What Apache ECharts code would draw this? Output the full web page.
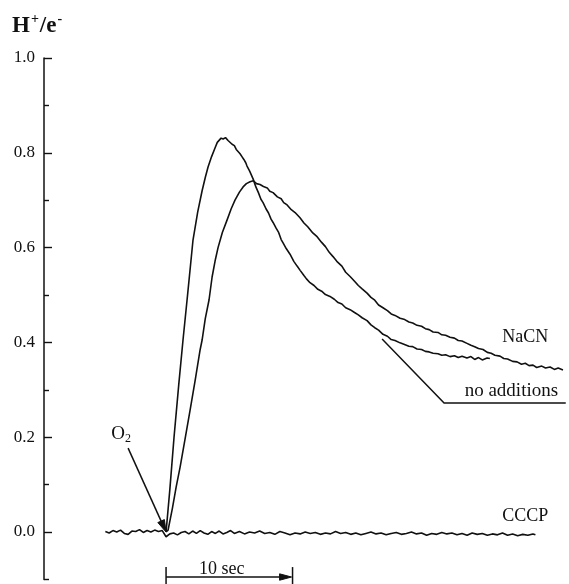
<!DOCTYPE html>
<html>
<head>
<meta charset="utf-8">
<script src="https://cdn.jsdelivr.net/npm/echarts@6/dist/echarts.min.js"></script>
<style>
html,body{margin:0;padding:0;background:#fff;}
#main{width:569px;height:584px;}
</style>
</head>
<body>
<div id="main"></div>
<script>
// ---- data: time (s, 0 = O2 addition) and H+/e- ratio ----
const noAdditions = [
[0,0],[0.3,0.09],[0.63,0.2],[1.0,0.31],[1.34,0.405],[1.7,0.5],[2.13,0.616],[2.5,0.675],[2.85,0.72],[3.1,0.748],[3.32,0.77],[3.6,0.792],[3.87,0.81],[4.05,0.822],[4.2,0.826],[4.35,0.831],[4.51,0.829],[4.7,0.832],[4.9,0.826],[5.05,0.824],[5.22,0.818],[5.4,0.815],[5.55,0.807],[5.7,0.805],[5.85,0.798],[6.0,0.792],[6.15,0.786],[6.3,0.779],[6.4,0.772],[6.6,0.762],[6.88,0.745],[7.1,0.728],[7.3,0.716],[7.5,0.702],[7.67,0.695],[7.9,0.682],[8.1,0.673],[8.3,0.66],[8.46,0.653],[8.7,0.641],[8.9,0.632],[9.1,0.617],[9.25,0.61],[9.5,0.598],[9.8,0.586],[10.1,0.571],[10.36,0.561],[10.6,0.552],[10.9,0.541],[11.1,0.534],[11.38,0.526],[11.7,0.52],[12.0,0.512],[12.3,0.508],[12.6,0.501],[12.96,0.497],[13.3,0.491],[13.6,0.484],[13.9,0.481],[14.2,0.473],[14.55,0.469],[14.9,0.463],[15.2,0.458],[15.5,0.452],[15.89,0.446],[16.2,0.437],[16.5,0.431],[16.8,0.426],[17.15,0.417],[17.5,0.413],[17.8,0.406],[18.1,0.404],[18.5,0.399],[18.8,0.396],[19.2,0.392],[19.5,0.391],[19.84,0.386],[20.2,0.385],[20.5,0.381],[20.8,0.38],[21.11,0.377],[21.5,0.376],[21.8,0.373],[22.1,0.374],[22.45,0.37],[22.8,0.372],[23.1,0.368],[23.4,0.371],[23.79,0.367],[24.1,0.37],[24.4,0.364],[24.7,0.368],[25.0,0.363],[25.38,0.367],[25.6,0.366]
];
const naCN = [
[0,0],[0.16,0.004],[0.5,0.05],[0.8,0.095],[1.11,0.137],[1.5,0.196],[1.9,0.257],[2.3,0.32],[2.69,0.384],[2.85,0.405],[3.1,0.45],[3.4,0.49],[3.64,0.538],[3.9,0.575],[4.11,0.6],[4.45,0.632],[4.82,0.658],[5.15,0.682],[5.45,0.7],[5.8,0.717],[6.09,0.728],[6.35,0.735],[6.64,0.739],[6.9,0.741],[7.15,0.735],[7.43,0.733],[7.7,0.729],[8.0,0.726],[8.2,0.719],[8.46,0.716],[8.8,0.707],[9.1,0.703],[9.3,0.695],[9.57,0.69],[9.9,0.68],[10.2,0.674],[10.59,0.663],[10.9,0.652],[11.2,0.644],[11.6,0.631],[11.94,0.623],[12.3,0.611],[12.6,0.602],[12.9,0.59],[13.2,0.581],[13.5,0.571],[13.9,0.561],[14.2,0.548],[14.55,0.539],[14.9,0.529],[15.2,0.52],[15.5,0.513],[15.89,0.504],[16.2,0.495],[16.5,0.489],[16.8,0.479],[17.15,0.473],[17.5,0.467],[17.8,0.46],[18.1,0.457],[18.5,0.451],[18.8,0.449],[19.2,0.443],[19.5,0.441],[19.84,0.436],[20.2,0.434],[20.5,0.429],[20.8,0.427],[21.11,0.422],[21.5,0.421],[21.8,0.416],[22.1,0.415],[22.45,0.411],[22.8,0.409],[23.1,0.404],[23.4,0.403],[23.79,0.398],[24.1,0.394],[24.4,0.391],[24.7,0.387],[25.06,0.385],[25.4,0.379],[25.7,0.377],[26.0,0.373],[26.4,0.371],[26.7,0.366],[27.0,0.365],[27.4,0.36],[27.75,0.359],[28.1,0.354],[28.4,0.356],[28.7,0.351],[29.01,0.352],[29.3,0.347],[29.7,0.35],[30.0,0.346],[30.36,0.348],[30.7,0.343],[31.0,0.346],[31.38,0.342]
];
const cccp = [
[-4.8,0.001],[-4.5,-0.002],[-4.2,0.003],[-3.9,0.0],[-3.6,0.004],[-3.3,-0.003],[-3.0,-0.005],[-2.7,0.002],[-2.4,0.001],[-2.1,0.005],[-1.8,-0.001],[-1.5,0.003],[-1.2,0.0],[-0.9,0.004],[-0.6,0.001],[-0.3,0.003],[0,-0.01],[0.3,-0.004],[0.6,-0.002],[0.9,-0.006],[1.2,-0.001],[1.5,0.001],[1.8,-0.004],[2.1,0.002],[2.4,-0.003],[2.7,0.003],[3.0,-0.002],[3.3,-0.005],[3.6,0.001],[3.9,-0.003],[4.2,0.002],[4.5,-0.004],[4.8,-0.001],[5.1,0.003],[5.4,-0.003],[5.8,0.001],[6.2,-0.004],[6.6,0.0],[7.0,-0.002],[7.4,0.002],[7.8,-0.003],[8.2,-0.001],[8.6,-0.005],[9.0,0.001],[9.4,-0.002],[9.8,-0.006],[10.2,-0.002],[10.6,-0.004],[11.0,0.0],[11.4,-0.003],[11.8,-0.001],[12.2,-0.005],[12.6,-0.002],[13.0,-0.004],[13.4,0.001],[13.8,-0.003],[14.2,-0.001],[14.6,-0.005],[15.0,-0.002],[15.4,-0.006],[15.8,-0.003],[16.2,0.0],[16.6,-0.004],[17.0,-0.002],[17.4,-0.006],[17.8,-0.003],[18.2,-0.001],[18.6,-0.005],[19.0,-0.003],[19.4,0.0],[19.8,-0.004],[20.2,-0.002],[20.6,-0.007],[21.0,-0.003],[21.4,-0.005],[21.8,-0.001],[22.2,-0.004],[22.6,-0.002],[23.0,-0.006],[23.4,-0.003],[23.8,-0.007],[24.2,-0.002],[24.6,-0.005],[25.0,-0.003],[25.4,-0.007],[25.8,-0.004],[26.2,-0.006],[26.6,-0.002],[27.0,-0.007],[27.4,-0.004],[27.8,-0.008],[28.2,-0.005],[28.6,-0.007],[29.0,-0.004],[29.2,-0.006]
];
const yMajorTicks = [0, 0.2, 0.4, 0.6, 0.8, 1.0];
const yMinorTicks = [-0.1, 0.1, 0.3, 0.5, 0.7, 0.9];
const scaleBarSeconds = 10;
const labelNaCN = 'NaCN';
const labelNoAdd = 'no additions';
const labelCCCP = 'CCCP';
const labelBar = '10 sec';

const SERIF = '"Liberation Serif", "Times New Roman", serif';
const INK = '#111';

const chart = echarts.init(document.getElementById('main'), null, {renderer: 'canvas'});

const lineSeries = (name, data) => ({
  name, type: 'line', data, showSymbol: false, symbol: 'none', smooth: false,
  xAxisIndex: 0, yAxisIndex: 0,
  lineStyle: {color: INK, width: 1.6}, silent: true
});

chart.setOption({
  animation: false,
  backgroundColor: '#fff',
  title: {
    left: 12, top: 12, padding: 0,
    text: '{a|H}{s|+}{a|/e}{s|-}',
    textStyle: {
      rich: {
        a: {fontFamily: SERIF, fontWeight: 'bold', fontSize: 23, color: INK, lineHeight: 26, verticalAlign: 'bottom'},
        s: {fontFamily: SERIF, fontWeight: 'bold', fontSize: 14, color: INK, lineHeight: 26, verticalAlign: 'top', padding: [0, 1, 0, 1]}
      }
    }
  },
  grid: {left: 44, right: 4.5, top: 58, bottom: 4.6, containLabel: false, outerBoundsMode: 'none'},
  xAxis: {type: 'value', min: -9.65, max: 31.5, show: false},
  yAxis: [{
    type: 'value', min: -0.1, max: 1.0, position: 'left',
    axisLine: {show: true, onZero: false, lineStyle: {color: INK, width: 1.5}},
    axisTick: {show: true, inside: true, length: 8, customValues: yMajorTicks, lineStyle: {color: INK, width: 1.4}},
    axisLabel: {show: true, customValues: yMajorTicks, margin: 9, formatter: v => v.toFixed(1),
      fontFamily: SERIF, fontSize: 17, color: INK},
    splitLine: {show: false}
  }, {
    type: 'value', min: -0.1, max: 1.0, position: 'left', offset: 0,
    axisLine: {show: false, onZero: false},
    axisTick: {show: true, inside: true, length: 5, customValues: yMinorTicks, lineStyle: {color: INK, width: 1.4}},
    axisLabel: {show: false},
    splitLine: {show: false}
  }],
  series: [
    lineSeries('no additions', noAdditions),
    lineSeries('NaCN', naCN),
    lineSeries('CCCP', cccp)
  ]
});

// ---- annotations, anchored in data coordinates ----
const P = (t, v) => chart.convertToPixel({seriesIndex: 0}, [t, v]);
function arrowHead(tip, from, len, half) {
  const dx = tip[0] - from[0], dy = tip[1] - from[1];
  const L = Math.hypot(dx, dy), ux = dx / L, uy = dy / L;
  const bx = tip[0] - ux * len, by = tip[1] - uy * len;
  return {base: [bx, by], pts: [tip, [bx - uy * half, by + ux * half], [bx + uy * half, by - ux * half]]};
}
const lineStyle = {stroke: INK, lineWidth: 1.5, fill: null};
const textStyleBase = {fontFamily: SERIF, fontSize: 18, fill: INK};

const o2From = P(-3.0, 0.177), o2Tip = P(0, 0);
const o2Head = arrowHead(o2Tip, o2From, 12, 3.6);
const o2Txt = P(-3.56, 0.205);

const leadA = P(17.08, 0.407), leadB = P(21.98, 0.272), leadC = P(31.6, 0.272);
const noAddTxt = P(27.3, 0.297);
const naTxt = P(28.4, 0.41);
const ccTxt = P(28.4, 0.034);

const barL = P(0, -0.095), barR = P(scaleBarSeconds, -0.095);
const barTopY = P(0, -0.074)[1], barBotY = P(0, -0.112)[1];
const barHead = arrowHead([barR[0] - 1, barR[1]], barL, 12, 3.2);
const barTxt = P(scaleBarSeconds * 0.44, -0.079);

chart.setOption({
  graphic: [
    {type: 'line', shape: {x1: o2From[0], y1: o2From[1], x2: o2Head.base[0], y2: o2Head.base[1]}, style: lineStyle, silent: true},
    {type: 'polygon', shape: {points: o2Head.pts}, style: {fill: INK, stroke: INK, lineWidth: 1}, silent: true},
    {type: 'text', x: o2Txt[0], y: o2Txt[1], silent: true,
      style: {text: '{o|O}{d|2}', align: 'center', verticalAlign: 'middle',
        rich: {o: {fontFamily: SERIF, fontSize: 19, fill: INK, lineHeight: 20, verticalAlign: 'top'},
               d: {fontFamily: SERIF, fontSize: 12, fill: INK, lineHeight: 20, verticalAlign: 'bottom', padding: [7, 0, 0, 0]}}}},
    {type: 'polyline', shape: {points: [leadA, leadB, leadC]}, style: lineStyle, silent: true},
    {type: 'text', x: noAddTxt[0], y: noAddTxt[1], silent: true,
      style: Object.assign({}, textStyleBase, {text: labelNoAdd, fontSize: 19, align: 'center', verticalAlign: 'middle'})},
    {type: 'text', x: naTxt[0], y: naTxt[1], silent: true,
      style: Object.assign({}, textStyleBase, {text: labelNaCN, align: 'center', verticalAlign: 'middle'})},
    {type: 'text', x: ccTxt[0], y: ccTxt[1], silent: true,
      style: Object.assign({}, textStyleBase, {text: labelCCCP, align: 'center', verticalAlign: 'middle'})},
    {type: 'line', shape: {x1: barL[0], y1: barL[1], x2: barHead.base[0], y2: barL[1]}, style: lineStyle, silent: true},
    {type: 'polygon', shape: {points: barHead.pts}, style: {fill: INK, stroke: INK, lineWidth: 1}, silent: true},
    {type: 'line', shape: {x1: barL[0], y1: barTopY, x2: barL[0], y2: barBotY}, style: lineStyle, silent: true},
    {type: 'line', shape: {x1: barR[0], y1: barTopY, x2: barR[0], y2: barBotY}, style: lineStyle, silent: true},
    {type: 'text', x: barTxt[0], y: barTxt[1], silent: true,
      style: Object.assign({}, textStyleBase, {text: labelBar, align: 'center', verticalAlign: 'middle'})}
  ]
});
</script>
</body>
</html>
